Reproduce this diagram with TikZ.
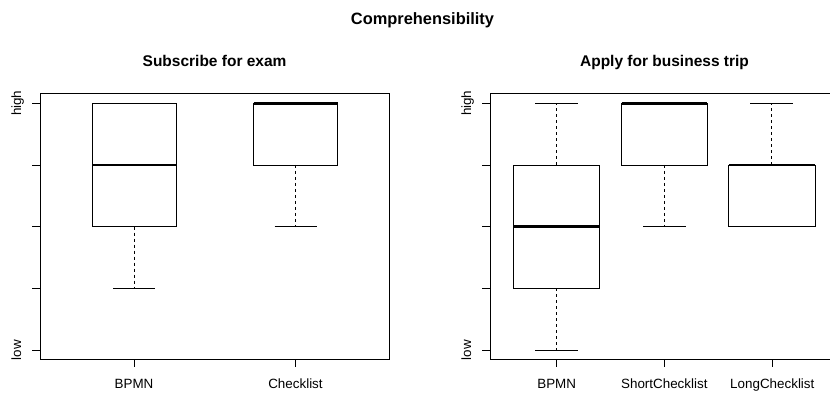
\documentclass[tikz,border=0pt]{standalone}
\usepackage{fontspec}
\setmainfont{Liberation Sans}
\tikzset{
  frame/.style={line width=0.9pt, line cap=rect},
  tickln/.style={line width=0.9pt},
  bxline/.style={line width=0.9pt},
  medline/.style={line width=2.6pt},
  whisk/.style={line width=0.9pt, dash pattern=on 3pt off 3pt},
  maintitle/.style={font=\fontsize{16.4}{18}\selectfont\bfseries, anchor=base, inner sep=0pt},
  subtitle/.style={font=\fontsize{15.5}{18}\selectfont\bfseries, anchor=base, inner sep=0pt},
  axlab/.style={font=\fontsize{13.4}{15}\selectfont, anchor=base, inner sep=0pt},
}
% cx, half width, lo, q1, med, q3, hi
\newcommand\bxplot[7]{%
  \pgfmathsetmacro\bpLo{350-(#3-1)*61.675}%
  \pgfmathsetmacro\bpQa{350-(#4-1)*61.675}%
  \pgfmathsetmacro\bpMd{350-(#5-1)*61.675}%
  \pgfmathsetmacro\bpQb{350-(#6-1)*61.675}%
  \pgfmathsetmacro\bpHi{350-(#7-1)*61.675}%
  \pgfmathsetmacro\bpL{#1-#2}%
  \pgfmathsetmacro\bpR{#1+#2}%
  \pgfmathsetmacro\bpCL{#1-#2/2}%
  \pgfmathsetmacro\bpCR{#1+#2/2}%
  \draw[whisk] (#1,\bpQb) -- (#1,\bpHi);
  \draw[whisk] (#1,\bpQa) -- (#1,\bpLo);
  \draw[bxline] (\bpCL,\bpHi) -- (\bpCR,\bpHi);
  \draw[bxline] (\bpCL,\bpLo) -- (\bpCR,\bpLo);
  \draw[bxline] (\bpL,\bpQa) rectangle (\bpR,\bpQb);
  \draw[medline] (\bpL,\bpMd) -- (\bpR,\bpMd);
}
\begin{document}
\begin{tikzpicture}[x=1pt,y=-1pt]
\useasboundingbox (0,0) rectangle (830,394);
\clip (0,0) rectangle (830,394);
\fill[white] (0,0) rectangle (830,394);

% titles
\node[maintitle] (main) at (422.5,24) {Comprehensibility};
\node[subtitle] (t1) at (214.6,66.5) {Subscribe for exam};
\node[subtitle] (t2) at (664.5,66.5) {Apply for business trip};

% left panel
\draw[frame] (40,93.3) rectangle (389.3,359.3);
\foreach \v in {1,...,5} {
  \draw[tickln] (32.3,{350-(\v-1)*61.675}) -- (40,{350-(\v-1)*61.675});
}
\node[axlab, rotate=90] (lh) at (21,103.3) {high};
\node[axlab, rotate=90] (ll) at (21,350) {low};
\foreach \x in {134,295.5} {
  \draw[tickln] (\x,359.3) -- (\x,366.7);
}
\node[axlab] (lx1) at (134,388.5) {BPMN};
\node[axlab] (lx2) at (295.5,388.5) {Checklist};
\bxplot{134}{42}{2}{3}{4}{5}{5}
\bxplot{295.7}{42}{3}{4}{5}{5}{5}

% right panel
\draw[frame] (490,93.3) rectangle (839,359.3);
\foreach \v in {1,...,5} {
  \draw[tickln] (482,{350-(\v-1)*61.675}) -- (490,{350-(\v-1)*61.675});
}
\node[axlab, rotate=90] (rh) at (471,103.3) {high};
\node[axlab, rotate=90] (rl) at (471,350) {low};
\foreach \x in {556.7,664.3,772.3} {
  \draw[tickln] (\x,359.3) -- (\x,366.7);
}
\node[axlab] (rx1) at (556.7,388.5) {BPMN};
\node[axlab] (rx2) at (664.3,388.5) {ShortChecklist};
\node[axlab] (rx3) at (772.3,388.5) {LongChecklist};
\bxplot{556.5}{43}{1}{2}{3}{4}{5}
\bxplot{664.5}{42.8}{3}{4}{5}{5}{5}
\bxplot{771.9}{43.1}{3}{3}{4}{4}{5}
\end{tikzpicture}
\end{document}
